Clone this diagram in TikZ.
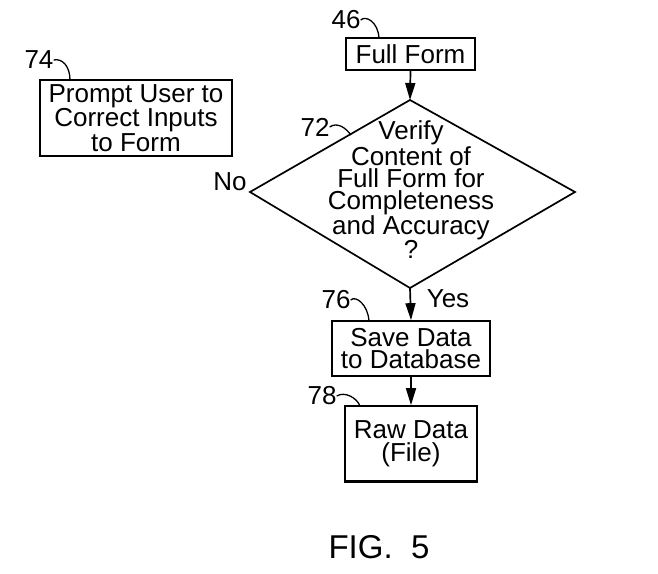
\documentclass[tikz,border=0pt]{standalone}
\usepackage{fontspec}
\setmainfont{Liberation Sans}
\usetikzlibrary{arrows.meta}
\tikzset{
  boxnode/.style={draw, line width=1.7pt, inner sep=0pt, align=center,
    font=\fontsize{26}{22.5}\selectfont},
  txt/.style={inner sep=0pt, align=center, font=\fontsize{26}{22}\selectfont},
  reflabel/.style={inner sep=0pt, font=\fontsize{26}{26}\selectfont},
  leader/.style={line width=1.3pt},
  flow/.style={line width=1.7pt, -{Triangle[length=17pt,width=10pt]}},
}
\begin{document}
\begin{tikzpicture}[x=1pt,y=-1pt]
\useasboundingbox[fill=white] (0,0) rectangle (658,573);

% boxes
\node[boxnode, minimum width=192pt, minimum height=76pt] (prompt) at (136,118)
  {Prompt User to\\Correct Inputs\\to Form};
\node[boxnode, minimum width=129pt, minimum height=32pt] (full) at (410.5,54) {Full Form};
\node[boxnode, minimum width=158pt, minimum height=55pt] (save) at (411,348.5)
  {Save Data\\to Database};
\node[boxnode, minimum width=132pt, minimum height=75pt] (raw) at (411,443.5)
  {Raw Data\\(File)};
\draw[line width=3pt] (raw.south west) -- (raw.south east);

% decision diamond
\coordinate (dtop) at (410,100);
\coordinate (dleft) at (250,192);
\coordinate (dright) at (575,192);
\coordinate (dbot) at (410,288);
\draw[line width=1.7pt, line join=miter] (dtop) -- (dright) -- (dbot) -- (dleft) -- cycle;
\node[txt] (verify) at (411,190)
  {Verify\\Content of\\Full Form for\\Completeness\\and Accuracy\\?};

% connectors
\draw[flow] (full.south) -- (dtop);
\draw[flow] (dbot) -- (save.north);
\draw[flow] (save.south) -- (raw.north);

% branch labels
\node[reflabel] (no) at (230,182) {No};
\node[reflabel] (yes) at (448,299) {Yes};

% reference numerals
\node[reflabel] (l74) at (39,60) {74};
\node[reflabel] (l46) at (346,20) {46};
\node[reflabel] (l72) at (315,127) {72};
\node[reflabel] (l76) at (336,300) {76};
\node[reflabel] (l78) at (322,396) {78};

\coordinate (e74) at (70,80);
\coordinate (e46) at (379,38);
\coordinate (e72) at (351,135);
\coordinate (e76) at (369,321);
\coordinate (e78) at (360,406);
\draw[leader] (l74.east) .. controls (62,58) and (70,66) .. (e74);
\draw[leader] (l46.east) .. controls (366,15) and (378,22) .. (e46);
\draw[leader] (l72.east) .. controls (337,122) and (345,127) .. (e72);
\draw[leader] (l76.east) .. controls (356,295) and (368,305) .. (e76);
\draw[leader] (l78.east) .. controls (345,391) and (357,398) .. (e78);

% caption
\node[inner sep=0pt, font=\fontsize{33}{33}\selectfont] (fig) at (379,547) {FIG.\ \ 5};
\end{tikzpicture}
\end{document}
